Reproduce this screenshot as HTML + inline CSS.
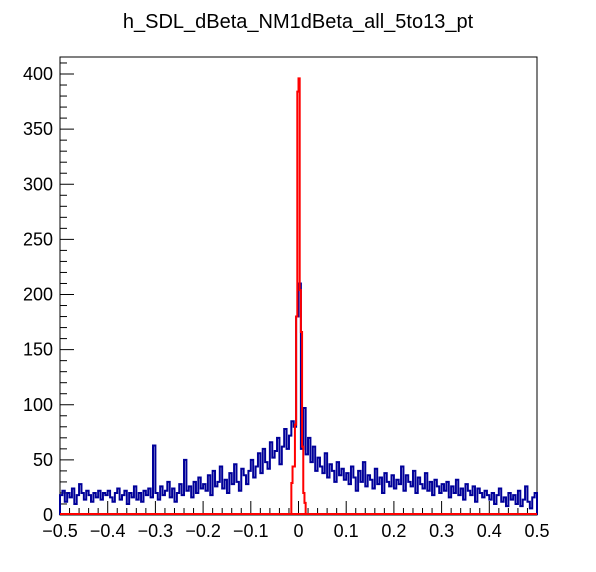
<!DOCTYPE html>
<html><head><meta charset="utf-8">
<style>
html,body{margin:0;padding:0;background:#fff;}
svg{display:block;font-family:"Liberation Sans",Arial,sans-serif;}
</style></head>
<body>
<svg id="chart" width="596" height="572" viewBox="0 0 596 572">
<text x="298" y="28" font-size="20" text-anchor="middle">h_SDL_dBeta_NM1dBeta_all_5to13_pt</text>
<rect x="60" y="57" width="477" height="458" fill="none" stroke="#000" stroke-width="1"/>
<g id="axes"></g>
<g id="series"></g>
</svg>
<script>
const xTickLabels=["\u22120.5","\u22120.4","\u22120.3","\u22120.2","\u22120.1","0","0.1","0.2","0.3","0.4","0.5"];
const yTickLabels=["0","50","100","150","200","250","300","350","400"];
const blueValues=[18,22,12,20,16,24,10,18,28,20,14,22,18,12,20,16,22,14,20,18,
22,16,12,20,24,14,18,22,10,20,16,26,14,20,12,22,18,24,16,63,
20,14,26,18,22,30,16,24,12,20,28,18,50,22,26,16,30,20,34,24,
28,22,36,18,40,26,30,44,24,32,20,38,28,46,30,22,42,36,28,40,
50,34,44,56,38,60,48,42,66,52,58,70,46,62,78,60,72,85,80,180,
210,60,97,55,70,48,62,40,52,44,38,56,34,46,40,30,48,36,42,32,
38,28,44,34,22,40,30,48,26,36,32,24,42,28,34,20,38,30,26,36,
24,32,28,44,22,36,30,26,40,20,34,28,24,38,22,30,18,32,26,20,
28,22,30,16,26,20,32,18,24,14,28,22,18,26,12,24,20,16,22,18,
14,20,10,18,24,12,16,8,20,14,18,10,22,8,14,26,12,6,16,20];
const redStartBin=194;
const redValues=[29,44,44,82,180,384,396,204,166,62,20,11];
const X0=60,X1=537,Y0=515,Y400=74;
const xs=v=>X0+(v+0.5)*(X1-X0);
const ys=v=>Y0-v*(Y0-Y400)/400;
const NS="http://www.w3.org/2000/svg";
const axes=document.getElementById('axes'),series=document.getElementById('series');
function mk(t,a,p){const e=document.createElementNS(NS,t);for(const k in a)e.setAttribute(k,a[k]);p.appendChild(e);return e;}
// x ticks
for(let i=0;i<=50;i++){const v=-0.5+i*0.02;const major=i%5===0;
 const t=mk('line',{x1:xs(v),x2:xs(v),y1:Y0,y2:Y0-(major?14:7),stroke:'#000','stroke-width':1},axes);
 
 }
xTickLabels.forEach((s,i)=>{const v=-0.5+i*0.1;
 const t=mk('text',{x:xs(v),y:537,'font-size':18,'text-anchor':'middle'},axes);t.textContent=s;
 
 });
// y ticks
for(let v=0;v<=440;v+=10){const y=ys(v);if(y<57)break;const major=v%50===0;
 const t=mk('line',{x1:X0,x2:X0+(major?14:7),y1:y,y2:y,stroke:'#000','stroke-width':1},axes);
 
 }
yTickLabels.forEach((s,i)=>{const v=i*50;
 const t=mk('text',{x:53,y:ys(v)+6,'font-size':18,'text-anchor':'end'},axes);t.textContent=s;
 
 });
function stepPath(vals,startBin,nBins){const w=1/nBins;let d='M'+xs(-0.5+startBin*w)+','+ys(0);
 vals.forEach((v,i)=>{const a=-0.5+(startBin+i)*w,b=a+w;d+=' L'+xs(a)+','+ys(v)+' L'+xs(b)+','+ys(v);});
 d+=' L'+xs(-0.5+(startBin+vals.length)*w)+','+ys(0);return d;}
const blue=mk('path',{d:stepPath(blueValues,0,200),fill:'none',stroke:'#000099','stroke-width':2},series);


const redBase=mk('line',{x1:X0,x2:X1,y1:Y0-1,y2:Y0-1,stroke:'#ff0000','stroke-width':2},series);


const red=mk('path',{d:stepPath(redValues,redStartBin,400),fill:'none',stroke:'#ff0000','stroke-width':2},series);


</script>
</body></html>
